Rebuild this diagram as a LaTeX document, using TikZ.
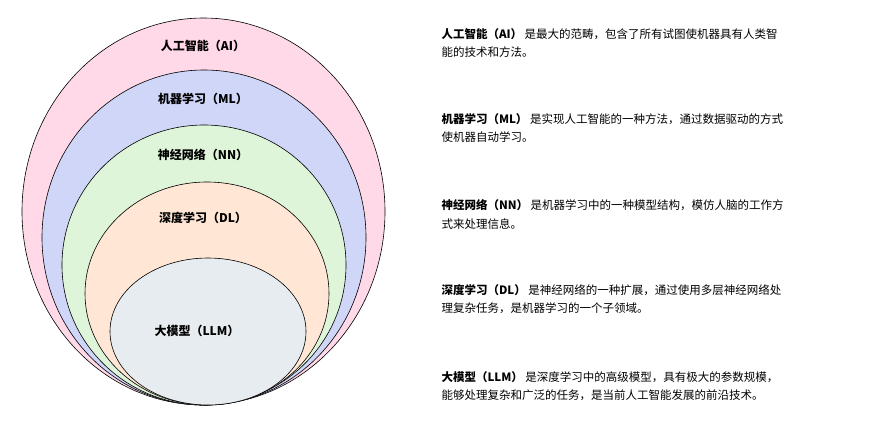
\documentclass[tikz,border=0pt]{standalone}
\usepackage{fontspec}
\setmainfont{Noto Sans CJK SC}
\begin{document}
\begin{tikzpicture}[x=1pt,y=-1pt,
  ring/.style={draw=black,line width=0.6pt},
  tag/.style={font=\fontsize{12}{14}\selectfont\bfseries},
  note/.style={anchor=north west,align=left,font=\fontsize{11.5}{18.5}\selectfont}]
\useasboundingbox (0,0) rectangle (892,424);
% nested sets, all touching at the bottom
\draw[ring,fill={rgb,255:red,255;green,217;blue,232}] (203.5,211.5) ellipse (181.5 and 193.5);
\draw[ring,fill={rgb,255:red,208;green,214;blue,247}] (204,237.5) ellipse (162 and 167.5);
\draw[ring,fill={rgb,255:red,223;green,245;blue,218}] (204,265) ellipse (142 and 140);
\draw[ring,fill={rgb,255:red,255;green,230;blue,213}] (207,293.5) ellipse (122 and 111.5);
\draw[ring,fill={rgb,255:red,230;green,236;blue,239}] (208,331.5) ellipse (98 and 73.5);
\node[tag] (ai) at (203,46) {人工智能（AI）};
\node[tag] (ml) at (203,99) {机器学习（ML）};
\node[tag] (nn) at (203,155) {神经网络（NN）};
\node[tag] (dl) at (203,218) {深度学习（DL）};
\node[tag] (llm) at (197,331) {大模型（LLM）};
% descriptions
\node[note] (dai) at (438,25) {\textbf{人工智能（AI）} 是最大的范畴，包含了所有试图使机器具有人类智\\能的技术和方法。};
\node[note] (dml) at (438,110) {\textbf{机器学习（ML）} 是实现人工智能的一种方法，通过数据驱动的方式\\使机器自动学习。};
\node[note] (dnn) at (438,196) {\textbf{神经网络（NN）} 是机器学习中的一种模型结构，模仿人脑的工作方\\式来处理信息。};
\node[note] (ddl) at (438,281) {\textbf{深度学习（DL）} 是神经网络的一种扩展，通过使用多层神经网络处\\理复杂任务，是机器学习的一个子领域。};
\node[note] (dllm) at (438,368) {\textbf{大模型（LLM）} 是深度学习中的高级模型，具有极大的参数规模，\\能够处理复杂和广泛的任务，是当前人工智能发展的前沿技术。};
\end{tikzpicture}
\end{document}
